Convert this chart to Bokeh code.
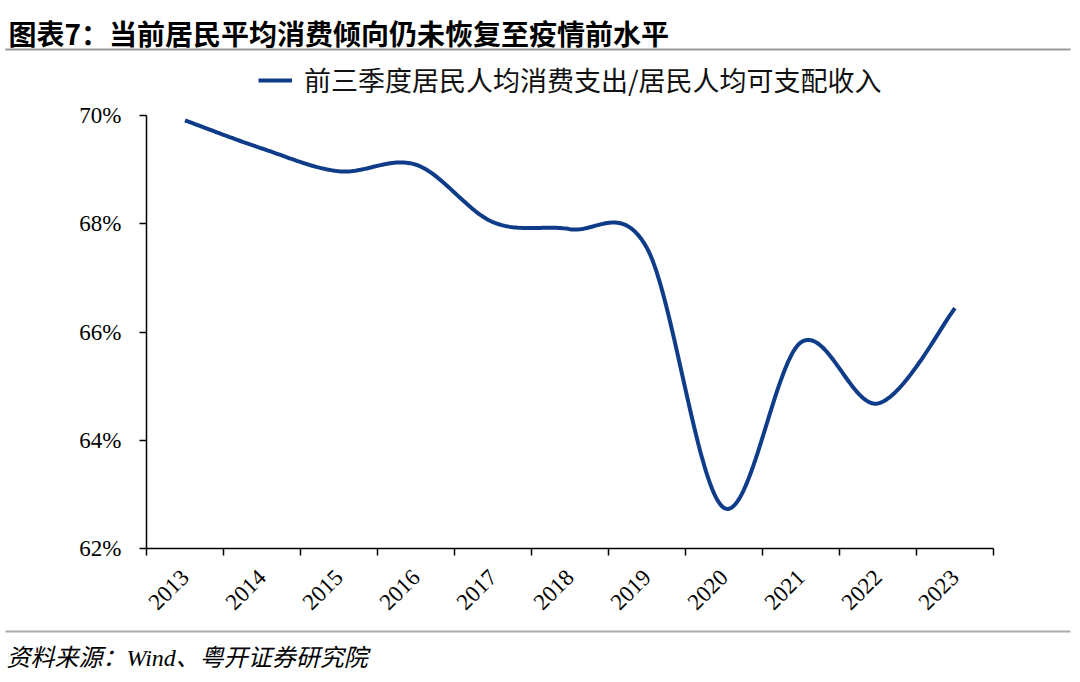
import math
import numpy as np
from bokeh.plotting import figure
from bokeh.models import (FixedTicker, PrintfTickFormatter, Label, BoxAnnotation,
                          Legend, LegendItem, Range1d, ColumnDataSource)
from bokeh.embed import file_html
from bokeh.resources import INLINE

# ---- data ----
years = ["2013", "2014", "2015", "2016", "2017", "2018", "2019", "2020", "2021", "2022", "2023"]
ratio = [69.91, 69.39, 68.97, 69.09, 68.03, 67.90, 67.55, 62.75, 65.81, 64.68, 66.44]
series_name = "前三季度居民人均消费支出/居民人均可支配收入"
title_text = "图表7：当前居民平均消费倾向仍未恢复至疫情前水平"
source_text = "资料来源：Wind、粤开证券研究院"
y_ticks = [62, 64, 66, 68, 70]

# ---- smooth curve (Bezier / Catmull-Rom through the data points, as a smoothed line) ----
xs = np.arange(len(years)) + 0.5
ys = np.array(ratio, dtype=float)
px = np.concatenate([[xs[0]], xs, [xs[-1]]])
py = np.concatenate([[ys[0]], ys, [ys[-1]]])
cx, cy = [], []
for i in range(1, len(px) - 2):
    p0x, p1x, p2x, p3x = px[i - 1], px[i], px[i + 1], px[i + 2]
    p0y, p1y, p2y, p3y = py[i - 1], py[i], py[i + 1], py[i + 2]
    b1x, b1y = p1x + (p2x - p0x) / 6, p1y + (p2y - p0y) / 6
    b2x, b2y = p2x - (p3x - p1x) / 6, p2y - (p3y - p1y) / 6
    t = np.linspace(0, 1, 40)
    bx = (1 - t) ** 3 * p1x + 3 * (1 - t) ** 2 * t * b1x + 3 * (1 - t) * t ** 2 * b2x + t ** 3 * p2x
    by = (1 - t) ** 3 * p1y + 3 * (1 - t) ** 2 * t * b1y + 3 * (1 - t) * t ** 2 * b2y + t ** 3 * p2y
    cx.extend(bx.tolist())
    cy.extend(by.tolist())

W, H = 1072, 674
# plot area inside the canvas (px): left, right, top, bottom
AL, AR, AT, AB = 146, 993, 115, 548
n = len(years)
xu = (AR - AL) / n            # px per category
yu = (AB - AT) / (70 - 62)    # px per percent
x_rng = Range1d(-AL / xu, n + (W - AR) / xu)
y_rng = Range1d(62 - (H - AB) / yu, 70 + AT / yu)

p = figure(width=W, height=H, output_backend="svg", toolbar_location=None,
           x_range=x_rng, y_range=y_rng,
           min_border=0, min_border_left=0, min_border_right=0,
           min_border_top=0, min_border_bottom=0,
           background_fill_color="white", border_fill_color="white")
p.outline_line_color = None
p.grid.visible = False

serif = "Liberation Serif, Noto Sans CJK SC"
cjk = "Noto Sans CJK SC"

# x axis
xa = p.xaxis[0]
xa.fixed_location = 62
xa.bounds = (0, n)
xa.ticker = FixedTicker(ticks=xs.tolist(), minor_ticks=list(range(n + 1)))
xa.major_label_overrides = {float(x): y for x, y in zip(xs, years)}
xa.major_tick_out = 0
xa.major_tick_in = 0
xa.minor_tick_out = 7
xa.minor_tick_in = 0
xa.minor_tick_line_color = "black"
xa.minor_tick_line_width = 1.5
xa.axis_line_color = "black"
xa.axis_line_width = 1.5
xa.major_label_orientation = math.pi / 4
xa.major_label_text_font = "Liberation Serif"
xa.major_label_text_font_size = "23px"
xa.major_label_text_color = "black"
xa.major_label_standoff = 18

# y axis
ya = p.yaxis[0]
ya.fixed_location = 0
ya.bounds = (62, 70)
ya.ticker = FixedTicker(ticks=y_ticks, minor_ticks=[])
ya.formatter = PrintfTickFormatter(format="%d%%")
ya.major_tick_out = 7
ya.major_tick_in = 0
ya.major_tick_line_width = 1.5
ya.axis_line_color = "black"
ya.axis_line_width = 1.5
ya.major_label_text_font = "Liberation Serif"
ya.major_label_text_font_size = "23px"
ya.major_label_text_color = "black"
ya.major_label_standoff = 18

src = ColumnDataSource(dict(x=cx, y=cy))
r = p.line("x", "y", source=src, line_color="#0e3c88", line_width=4)

legend = Legend(items=[LegendItem(label=series_name, renderers=[r])],
                location=(258, H - 99), orientation="horizontal",
                glyph_width=34, glyph_height=20, label_standoff=12,
                padding=0, margin=0, border_line_color=None,
                background_fill_alpha=0,
                label_text_font=cjk, label_text_font_size="27px",
                label_text_color="#111111")
p.add_layout(legend, "center")

# title
p.add_layout(Label(x=8, y=H - 32, x_units="screen", y_units="screen",
                   text=title_text, text_font=cjk, text_font_style="bold",
                   text_font_size="28px", text_baseline="middle", text_color="black"))
# separator lines
p.add_layout(BoxAnnotation(left=5, right=1070, top=H - 48, bottom=H - 50,
                           left_units="screen", right_units="screen",
                           top_units="screen", bottom_units="screen",
                           fill_color="#999999", fill_alpha=1, line_color=None))
p.add_layout(BoxAnnotation(left=5, right=1070, top=H - 630, bottom=H - 632,
                           left_units="screen", right_units="screen",
                           top_units="screen", bottom_units="screen",
                           fill_color="#aaaaaa", fill_alpha=1, line_color=None))
# source
p.add_layout(Label(x=6, y=H - 657, x_units="screen", y_units="screen",
                   text=source_text, text_font=serif, text_font_style="italic",
                   text_font_size="24px", text_baseline="middle", text_color="black"))

open("out.html", "w").write(file_html(p, INLINE))
